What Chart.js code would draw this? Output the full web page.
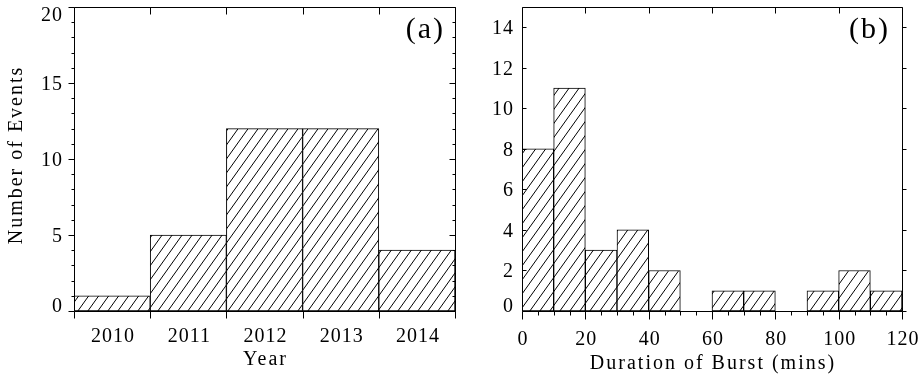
<!DOCTYPE html>
<html>
<head>
<meta charset="utf-8">
<script src="https://cdn.jsdelivr.net/npm/chart.js@4/dist/chart.umd.min.js"></script>
<style>
html, body { margin: 0; padding: 0; background: #fff; }
#wrap { position: relative; width: 924px; height: 375px; }
.panel { position: absolute; top: 0; width: 462px; height: 375px; }
</style>
</head>
<body>
<div id="wrap">
  <div class="panel" style="left:0"><canvas id="chartA" width="462" height="375"></canvas></div>
  <div class="panel" style="left:462px"><canvas id="chartB" width="462" height="375"></canvas></div>
</div>
<script>
// panel (a): number of events per year
const years = ['2010', '2011', '2012', '2013', '2014'];
const eventsPerYear = [1, 5, 12, 12, 4];
const yLabelsA = [0, 5, 10, 15, 20];

// panel (b): duration of burst, 10 minute bins
const binCentres = [5, 15, 25, 35, 45, 55, 65, 75, 85, 95, 105, 115];
const burstCounts = [8, 11, 3, 4, 2, 0, 1, 1, 0, 1, 2, 1];
const xLabelsB = [0, 20, 40, 60, 80, 100, 120];
const yLabelsB = [0, 2, 4, 6, 8, 10, 12, 14];

const FONT = "'Liberation Serif', 'Times New Roman', serif";

// diagonal line fill like the IDL polyfill
function hatch(w, h) {
    const c = document.createElement('canvas');
    c.width = w;
    c.height = h;
    const g = c.getContext('2d');
    g.fillStyle = '#fff';
    g.fillRect(0, 0, w, h);
    g.strokeStyle = '#000';
    g.lineWidth = 1;
    g.beginPath();
    for (let k = -1; k <= 1; k++) {
        g.moveTo(-w, 2 * h + k * h);
        g.lineTo(2 * w, -h + k * h);
    }
    g.stroke();
    return g.createPattern(c, 'repeat');
}

function range(from, to, step) {
    const out = [];
    for (let v = from; v <= to + 1e-9; v += step) out.push(v);
    return out;
}

// frame, tick marks, labels and titles drawn from the chart's scales
const idlAxes = {
    id: 'idlAxes',
    afterDatasetsDraw(chart, args, o) {
        const { ctx, chartArea: a, scales } = chart;
        const x = scales.x, y = scales.y;
        ctx.save();
        ctx.strokeStyle = '#000';
        ctx.lineWidth = 1;
        ctx.beginPath();
        ctx.rect(a.left + 0.5, a.top + 0.5, a.right - a.left, a.bottom - a.top);

        o.yTicks.forEach(t => {
            const py = Math.round(y.getPixelForValue(t[0])) + 0.5;
            ctx.moveTo(a.left + 0.5, py);
            ctx.lineTo(a.left + 0.5 + o.yDir * t[1], py);
            ctx.moveTo(a.right + 0.5, py);
            ctx.lineTo(a.right + 0.5 + o.yDir * t[1], py);
        });
        o.xTicks.forEach(t => {
            const px = Math.round(x.getPixelForValue(t[0])) + 0.5;
            ctx.moveTo(px, a.bottom + 0.5);
            ctx.lineTo(px, a.bottom + 0.5 + t[1]);
            if (t[2]) {
                ctx.moveTo(px, a.top + 0.5);
                ctx.lineTo(px, a.top + 0.5 + t[2]);
            }
        });
        ctx.stroke();

        ctx.fillStyle = '#000';
        ctx.font = '20px ' + FONT;
        ctx.letterSpacing = '1px';
        ctx.textBaseline = 'alphabetic';

        // y tick labels, kept inside the plot height
        ctx.textAlign = 'right';
        o.yLabels.forEach(v => {
            let py = y.getPixelForValue(v) + 7;
            py = Math.min(Math.max(py, a.top + 14), a.bottom + 1);
            ctx.fillText(String(v), a.left - o.yGap, py);
        });

        // x tick labels
        ctx.textAlign = 'center';
        o.xLabels.forEach(l => {
            ctx.fillText(l[1], x.getPixelForValue(l[0]) + 1, a.bottom + o.xLabelDy);
        });

        // axis titles
        ctx.letterSpacing = '2px';
        ctx.fillText(o.xTitle, (a.left + a.right) / 2 + 1, a.bottom + o.xTitleDy);
        if (o.yTitle) {
            ctx.save();
            ctx.translate(o.yTitleX, (a.top + a.bottom) / 2 - 4);
            ctx.rotate(-Math.PI / 2);
            ctx.fillText(o.yTitle, 0, 0);
            ctx.restore();
        }

        // panel tag
        ctx.font = '30px ' + FONT;
        ctx.letterSpacing = '2px';
        ctx.textAlign = 'right';
        ctx.fillText(o.tag, a.right - o.tagDx, a.top + 31);
        ctx.restore();
    }
};

function hiddenScale(extra, fit) {
    return Object.assign({
        grid: { display: false },
        border: { display: false },
        ticks: { display: false },
        afterFit: fit
    }, extra);
}

const barStyle = {
    borderColor: '#000',
    borderWidth: 1,
    borderSkipped: false,
    barPercentage: 1,
    categoryPercentage: 1
};

new Chart(document.getElementById('chartA'), {
    type: 'bar',
    data: {
        labels: years,
        datasets: [Object.assign({
            data: eventsPerYear,
            backgroundColor: hatch(10, 14)
        }, barStyle)]
    },
    options: {
        responsive: false,
        animation: false,
        layout: { padding: { left: 0, top: 7, right: 7, bottom: 0 } },
        plugins: {
            legend: { display: false },
            tooltip: { enabled: false },
            idlAxes: {
                yDir: -1,
                yTicks: range(0, 20, 1).map(v => [v, yLabelsA.includes(v) ? 6 : 3]),
                xTicks: range(-0.5, years.length - 0.5, 1).map(v => [v, 7, 7]),
                yLabels: yLabelsA,
                yGap: 11,
                xLabels: years.map((l, i) => [i, l]),
                xLabelDy: 31,
                xTitle: 'Year',
                xTitleDy: 54,
                yTitle: 'Number of Events',
                yTitleX: 22,
                tag: '(a)',
                tagDx: 10
            }
        },
        scales: {
            x: hiddenScale({ type: 'category', offset: true }, s => { s.height = 64; }),
            y: hiddenScale({ min: 0, max: 20 }, s => { s.width = 74; })
        }
    },
    plugins: [idlAxes]
});

new Chart(document.getElementById('chartB'), {
    type: 'bar',
    data: {
        datasets: [Object.assign({
            data: binCentres.map((c, i) => ({ x: c, y: burstCounts[i] })),
            backgroundColor: hatch(10, 14)
        }, barStyle)]
    },
    options: {
        responsive: false,
        animation: false,
        layout: { padding: { left: 0, top: 7, right: 22, bottom: 0 } },
        plugins: {
            legend: { display: false },
            tooltip: { enabled: false },
            idlAxes: {
                yDir: 1,
                yTicks: yLabelsB.map(v => [v, 4]),
                xTicks: range(0, 120, 5).map(v => xLabelsB.includes(v) ? [v, 8, 6] : [v, 4, 0]),
                yLabels: yLabelsB,
                yGap: 8,
                xLabels: xLabelsB.map(v => [v, String(v)]),
                xLabelDy: 34,
                xTitle: 'Duration of Burst (mins)',
                xTitleDy: 58,
                yTitle: '',
                tag: '(b)',
                tagDx: 12
            }
        },
        scales: {
            x: hiddenScale({ type: 'linear', min: 0, max: 120, offset: false }, s => { s.height = 64; }),
            y: hiddenScale({ min: 0, max: 15 }, s => { s.width = 60; })
        }
    },
    plugins: [idlAxes]
});
</script>
</body>
</html>
